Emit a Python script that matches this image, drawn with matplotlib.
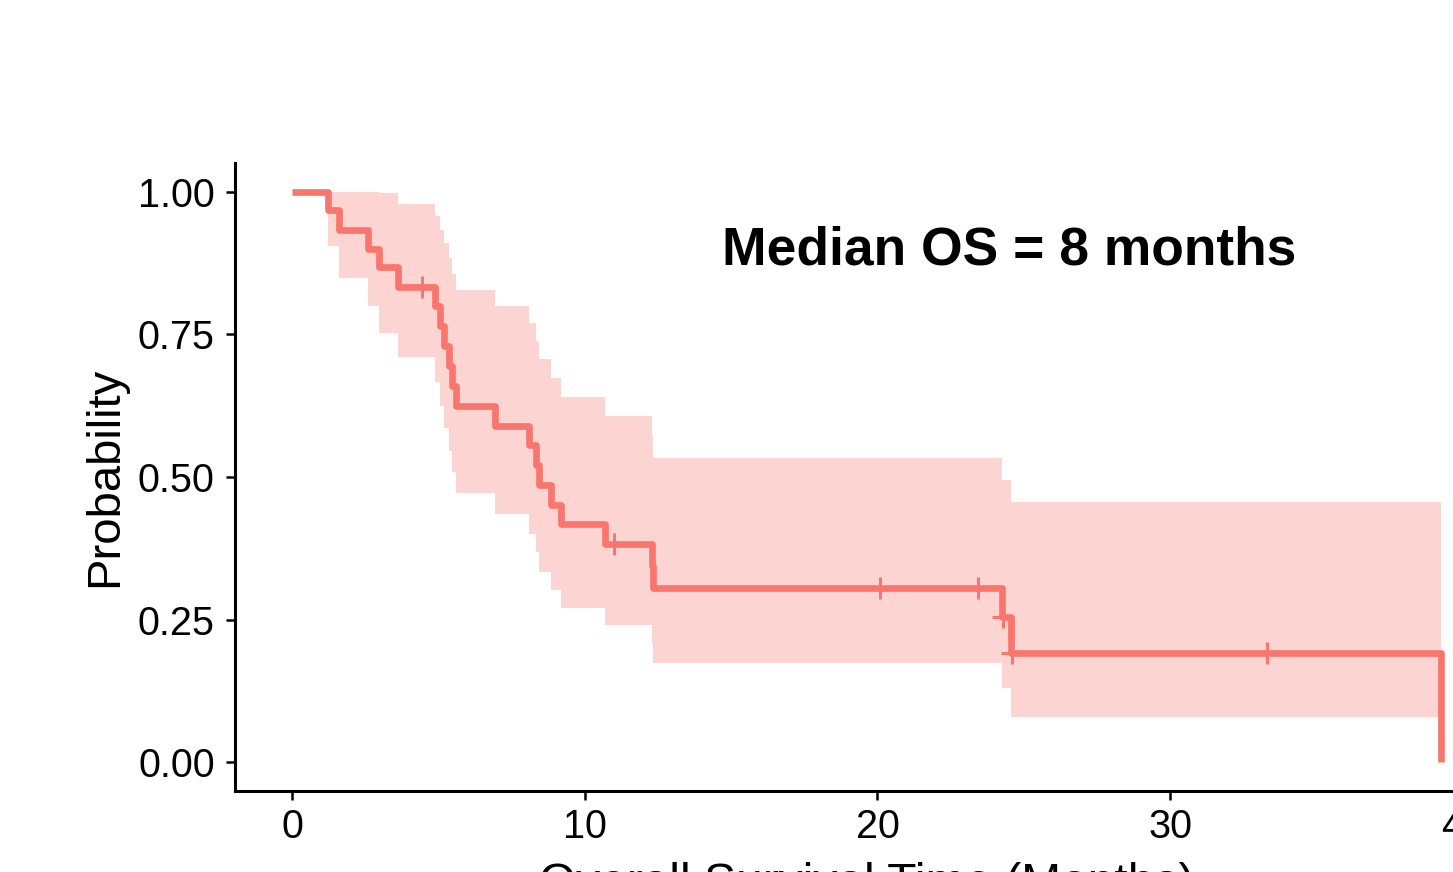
import numpy as np
import matplotlib
matplotlib.use("Agg")
import matplotlib.pyplot as plt

plt.rcParams['font.family'] = ['Liberation Sans', 'DejaVu Sans']

# Kaplan-Meier steps (time in months, survival probability)
step_times = [0, 1.21, 1.58, 2.57, 2.97, 3.62, 4.86, 5.03, 5.20, 5.34, 5.45, 5.59,
              6.91, 8.10, 8.33, 8.42, 8.84, 9.18, 10.67, 12.30, 12.34, 24.26, 24.56, 39.25]
surv = [1.000, 0.967, 0.933, 0.900, 0.867, 0.833, 0.799, 0.764, 0.729, 0.694, 0.660, 0.625,
        0.590, 0.556, 0.521, 0.486, 0.451, 0.417, 0.382, 0.344, 0.306, 0.255, 0.191, 0.000]

# confidence band (one value per step, up to the last event before the final drop)
upper = [1.000, 1.000, 1.000, 1.000, 0.997, 0.978, 0.957, 0.933, 0.909, 0.883, 0.856, 0.828,
         0.799, 0.769, 0.738, 0.707, 0.674, 0.641, 0.607, 0.571, 0.534, 0.494, 0.456]
lower = [1.000, 0.905, 0.848, 0.799, 0.753, 0.710, 0.667, 0.625, 0.585, 0.546, 0.509, 0.472,
         0.436, 0.401, 0.368, 0.334, 0.302, 0.271, 0.240, 0.207, 0.175, 0.131, 0.080]

# censored observations
censor_t = [4.42, 10.99, 20.07, 23.43, 24.30, 24.60, 33.30]
censor_s = [0.833, 0.382, 0.306, 0.306, 0.255, 0.191, 0.191]

x_ticks = [0, 10, 20, 30, 40]
y_ticks = [0.00, 0.25, 0.50, 0.75, 1.00]

col = '#F8766D'

fig = plt.figure(figsize=(14.53, 8.72), dpi=100)
ax = fig.add_axes([235 / 1453, 81 / 872, 1263 / 1453, 628 / 872])

# band
band_hi = upper + [upper[-1]]
band_lo = lower + [lower[-1]]
ax.fill_between(step_times, band_lo, band_hi, step='post', color=col, alpha=0.3, linewidth=0)

# survival curve
ax.step(step_times, surv, where='post', color=col, linewidth=4.8, solid_capstyle='butt')
ax.plot(censor_t, censor_s, linestyle='none', marker='+', markersize=16,
        markeredgewidth=2.2, color=col)

ax.text(14.67, 0.872, 'Median OS = 8 months', fontsize=38.4, fontweight='bold',
        ha='left', va='baseline', color='black')

ax.set_xlim(-1.96, 41.21)
ax.set_ylim(-0.05, 1.05)
ax.set_xticks(x_ticks)
ax.set_xticklabels([str(v) for v in x_ticks])
ax.set_yticks(y_ticks)
ax.set_yticklabels(['%.2f' % v for v in y_ticks])

for s in ['top', 'right']:
    ax.spines[s].set_visible(False)
for s in ['left', 'bottom']:
    ax.spines[s].set_linewidth(2.2)

ax.tick_params(axis='both', direction='out', length=6.5, width=1.8, labelsize=28.5,
               colors='black')
ax.tick_params(axis='y', pad=8)
ax.tick_params(axis='x', pad=6)

ax.set_ylabel('Probability', fontsize=34, labelpad=8)
ax.set_xlabel('Overall Survival Time (Months)', fontsize=34.5, labelpad=11)

plt.savefig('out.png', dpi=100)
